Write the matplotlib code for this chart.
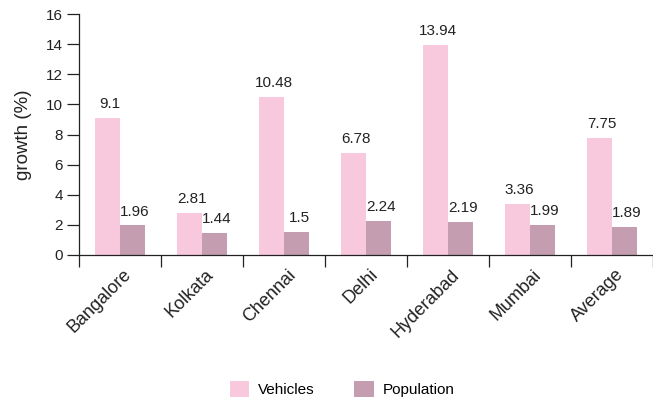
import matplotlib
matplotlib.use("Agg")
import matplotlib.pyplot as plt
import matplotlib.transforms as mtrans
import numpy as np

plt.rcParams['font.family'] = ['Liberation Sans', 'DejaVu Sans']

# croissance annuelle (%) par ville
villes = ["Bangalore", "Kolkata", "Chennai", "Delhi", "Hyderabad", "Mumbai", "Average"]
vehicules = [9.1, 2.81, 10.48, 6.78, 13.94, 3.36, 7.75]
population = [1.96, 1.44, 1.5, 2.24, 2.19, 1.99, 1.89]
yticks = [0, 2, 4, 6, 8, 10, 12, 14, 16]

col_veh = "#F8C8DD"
col_pop = "#C49EB0"
col_txt = "#222222"

fig = plt.figure(figsize=(6.53, 4.03), dpi=100)
ax = fig.add_axes([79 / 653, 1 - 255 / 403, 1 - 79 / 653, (255 - 14) / 403])

x = np.arange(len(villes))
w = 0.31
b1 = ax.bar(x - w / 2, vehicules, w, color=col_veh, label="Vehicles")
b2 = ax.bar(x + w / 2, population, w, color=col_pop, label="Population")

# valeurs au-dessus des barres
for rects, vals in ((b1, vehicules), (b2, population)):
    for r, v in zip(rects, vals):
        ax.annotate("%g" % v, (r.get_x() + r.get_width() / 2 + 0.03, v),
                    xytext=(0, 5), textcoords="offset points",
                    ha="center", va="bottom", fontsize=11, color=col_txt)

ax.set_xlim(-0.5, -0.5 + 574 / 82.8)
ax.set_ylim(0, 16)
ax.set_yticks(yticks)
ax.tick_params(axis="y", direction="out", length=8.5, width=0.9,
               labelsize=11, colors=col_txt, pad=3)

# graduations x entre les categories, noms au centre
ax.set_xticks(np.arange(len(villes) + 1) - 0.5)
ax.set_xticklabels([])
ax.set_xticks(x, minor=True)
ax.set_xticklabels(villes, minor=True, rotation=45, ha="right",
                   rotation_mode="anchor", fontsize=13, color=col_txt)
ax.tick_params(axis="x", which="major", direction="out", length=8.5, width=0.9, color=col_txt)
ax.tick_params(axis="x", which="minor", length=0, pad=8)
decal = mtrans.ScaledTranslation(3 / 100, 0, fig.dpi_scale_trans)
for lab in ax.get_xticklabels(minor=True):
    lab.set_transform(lab.get_transform() + decal)

for s in ("top", "right"):
    ax.spines[s].set_visible(False)
for s in ("left", "bottom"):
    ax.spines[s].set_color(col_txt)
    ax.spines[s].set_linewidth(0.9)

ax.set_ylabel("growth (%)", fontsize=13.5, color=col_txt)
ax.yaxis.set_label_coords(-47 / 574, 0.5)

fig.legend(handles=[b1, b2], loc="center", bbox_to_anchor=(342 / 653, 1 - 389 / 403),
           ncol=2, frameon=False, fontsize=11, handlelength=1.3, handleheight=1.3,
           columnspacing=2.6, handletextpad=0.55)

fig.savefig("out.png", dpi=100)
